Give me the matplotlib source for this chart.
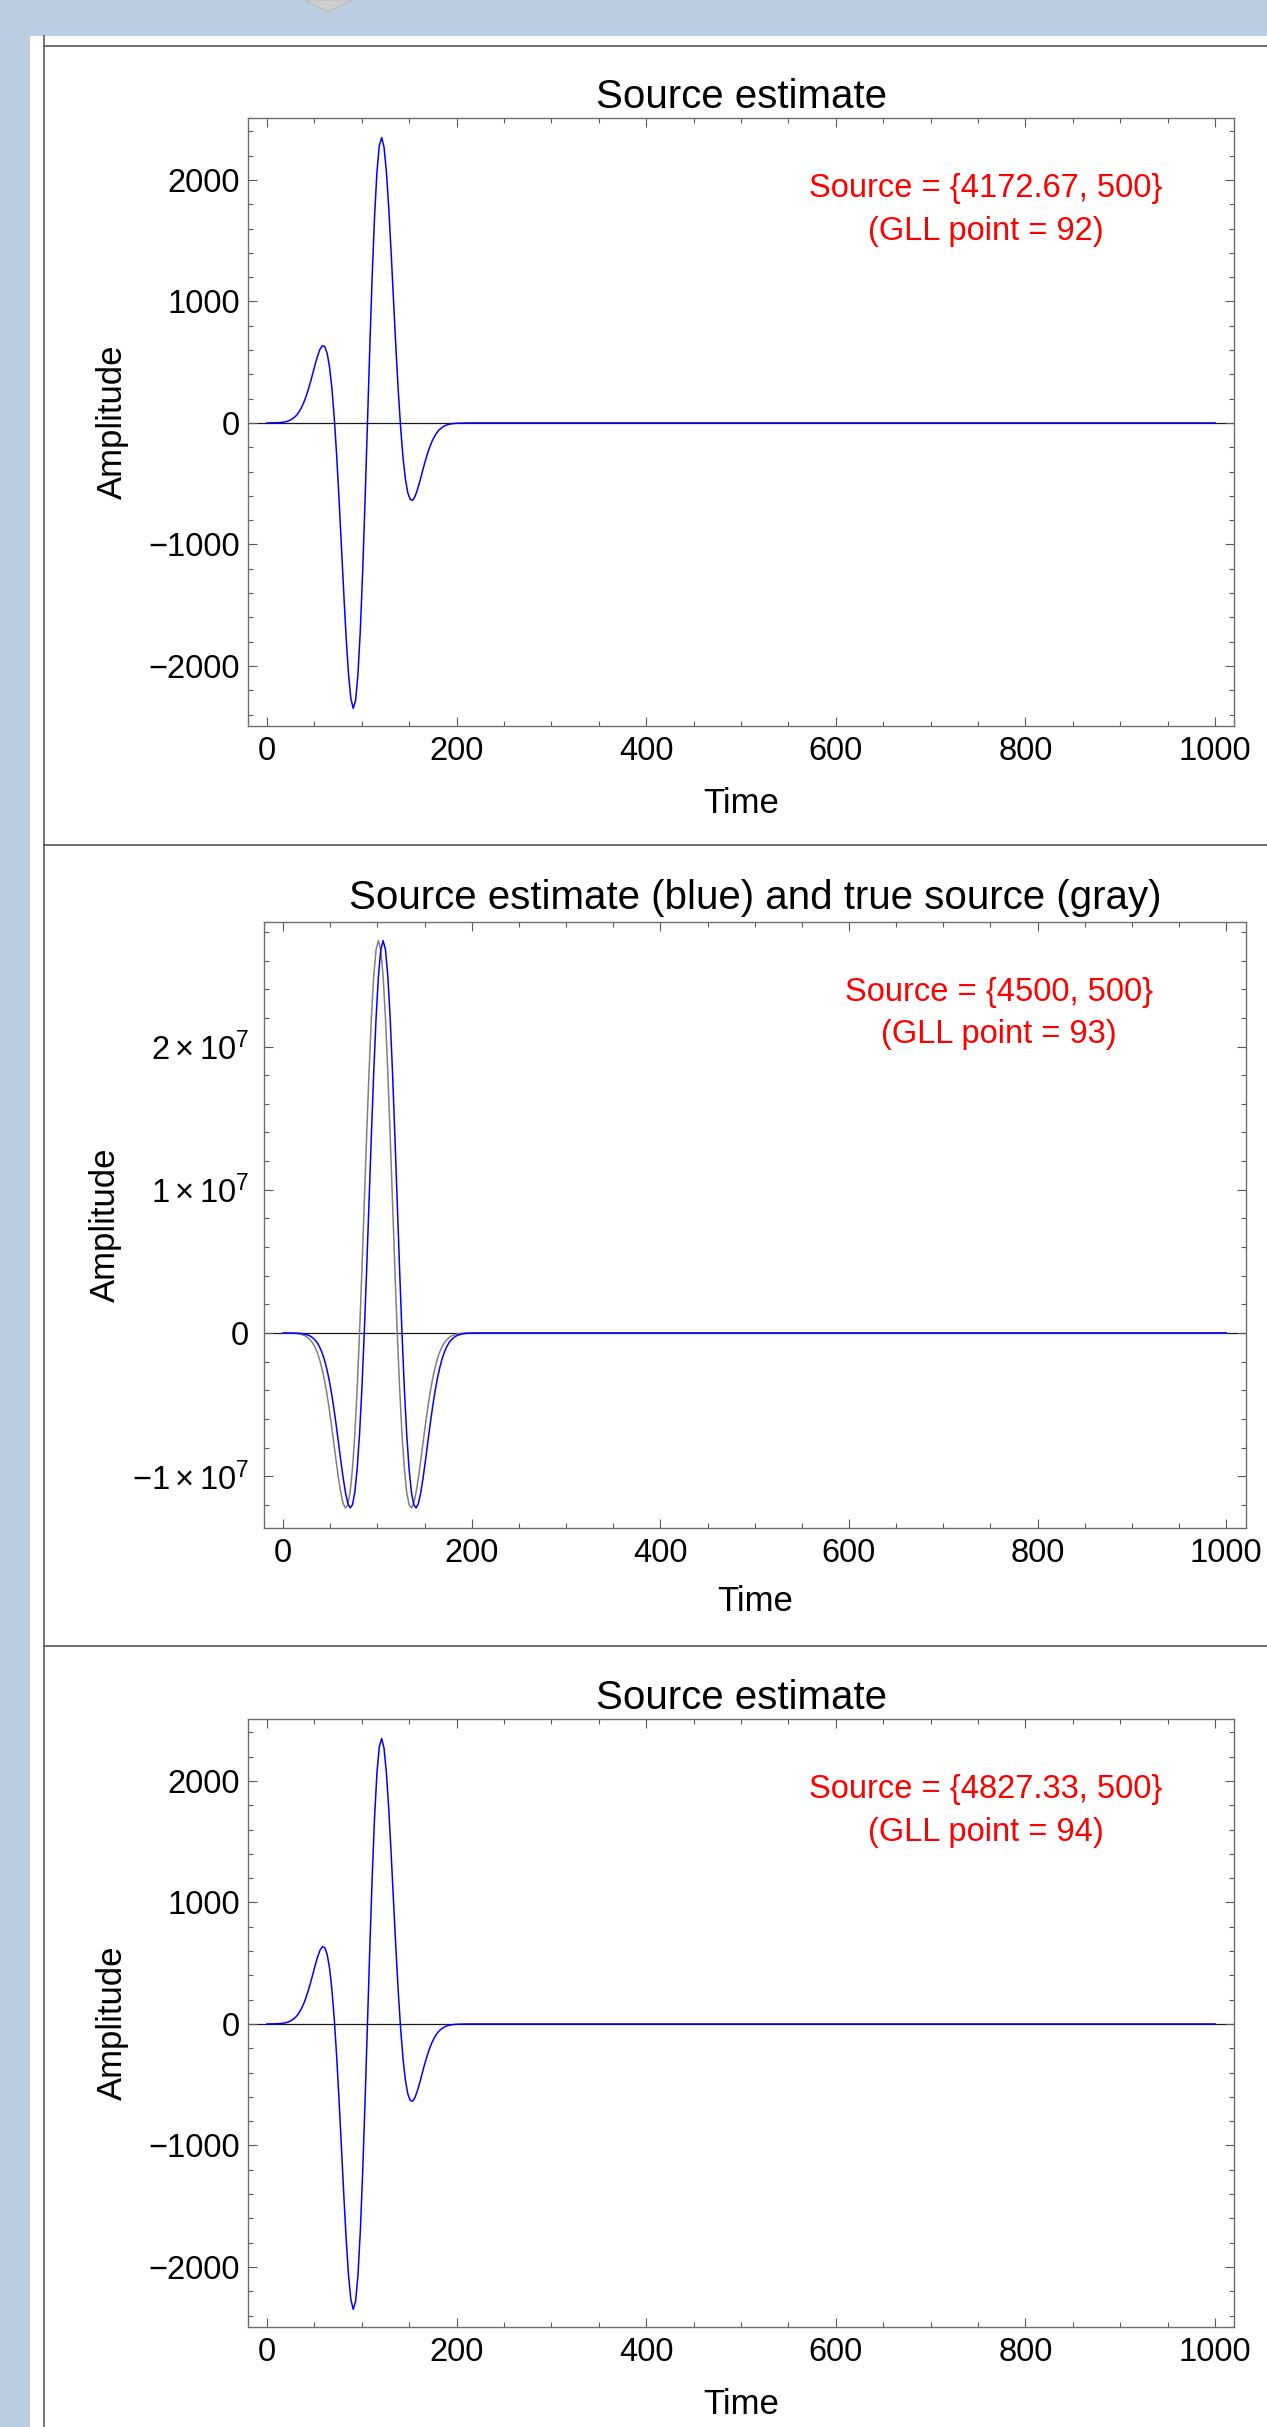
import matplotlib
matplotlib.use('Agg')
import matplotlib.pyplot as plt
from matplotlib.lines import Line2D
from matplotlib.patches import Polygon, Rectangle
from matplotlib.ticker import FuncFormatter, MultipleLocator

# - Values
# -- GLL point 92 (source estimate)
time_92 = [0, 6, 11, 16, 18.5, 21, 23.5, 26, 28.5, 31, 33.5, 36, 38.5, 41, 43.5, 46, 48.5, 51,
           53.5, 56, 58.5, 61, 63.5, 66, 68.5, 71, 73.5, 76, 78.5, 81, 83.5, 86, 88.5, 91, 93.5,
           96, 98.5, 101, 103.5, 106, 108.5, 111, 113.5, 116, 118.5, 121, 123.5, 126, 128.5,
           131, 133.5, 136, 138.5, 141, 143.5, 146, 148.5, 151, 153.5, 156, 158.5, 161, 163.5,
           166, 168.5, 171, 173.5, 176, 178.5, 181, 183.5, 186, 188.5, 191, 193.5, 196, 201,
           206, 211, 300, 1000]
amplitude_92 = [0, 1, 2, 5, 8, 13, 20, 30, 44, 62, 88, 121, 162, 213, 273, 340, 413, 487,
                554, 608, 636, 628, 573, 461, 284, 40, -265, -622, -1009, -1400, -1764, -2065,
                -2269, -2349, -2283, -2065, -1701, -1211, -630, 0, 630, 1211, 1701, 2065, 2283,
                2349, 2269, 2065, 1764, 1400, 1009, 622, 265, -40, -284, -461, -573, -628,
                -636, -608, -554, -487, -413, -340, -273, -213, -162, -121, -88, -62, -44, -30,
                -20, -13, -8, -5, -2, -1, 0, 0, 0]

# -- GLL point 93, amplitudes in units of 1e7 (estimate in blue, true source in gray)
time_93_est = [0, 11, 16, 18.5, 21, 23.5, 26, 28.5, 31, 33.5, 36, 38.5, 41, 43.5, 46, 48.5,
               51, 53.5, 56, 58.5, 61, 63.5, 66, 68.5, 71, 73.5, 76, 78.5, 81, 83.5, 86, 88.5,
               91, 93.5, 96, 98.5, 101, 103.5, 106, 108.5, 111, 113.5, 116, 118.5, 121, 123.5,
               126, 128.5, 131, 133.5, 136, 138.5, 141, 143.5, 146, 148.5, 151, 153.5, 156,
               158.5, 161, 163.5, 166, 168.5, 171, 173.5, 176, 178.5, 181, 183.5, 186, 188.5,
               191, 193.5, 196, 201, 211, 300, 1000]
amplitude_93_est = [0, -0.001, -0.002, -0.003, -0.006, -0.009, -0.014, -0.021, -0.032, -0.047,
                    -0.067, -0.096, -0.133, -0.182, -0.244, -0.319, -0.410, -0.515, -0.632,
                    -0.758, -0.886, -1.007, -1.112, -1.189, -1.222, -1.200, -1.112, -0.948,
                    -0.706, -0.387, 0, 0.438, 0.905, 1.373, 1.814, 2.195, 2.490, 2.676, 2.740,
                    2.676, 2.490, 2.195, 1.814, 1.373, 0.905, 0.438, 0, -0.387, -0.706, -0.948,
                    -1.112, -1.200, -1.222, -1.189, -1.112, -1.007, -0.886, -0.758, -0.632,
                    -0.515, -0.410, -0.319, -0.244, -0.182, -0.133, -0.096, -0.067, -0.047,
                    -0.032, -0.021, -0.014, -0.009, -0.006, -0.003, -0.002, -0.001, 0, 0, 0]
time_93_true = [0, 6, 11, 13.5, 16, 18.5, 21, 23.5, 26, 28.5, 31, 33.5, 36, 38.5, 41, 43.5,
                46, 48.5, 51, 53.5, 56, 58.5, 61, 63.5, 66, 68.5, 71, 73.5, 76, 78.5, 81, 83.5,
                86, 88.5, 91, 93.5, 96, 98.5, 101, 103.5, 106, 108.5, 111, 113.5, 116, 118.5,
                121, 123.5, 126, 128.5, 131, 133.5, 136, 138.5, 141, 143.5, 146, 148.5, 151,
                153.5, 156, 158.5, 161, 163.5, 166, 168.5, 171, 173.5, 176, 178.5, 181, 183.5,
                186, 188.5, 191, 196, 206, 300, 1000]
amplitude_93_true = [0, -0.001, -0.002, -0.003, -0.006, -0.009, -0.014, -0.021, -0.032, -0.047,
                     -0.067, -0.096, -0.133, -0.182, -0.244, -0.319, -0.410, -0.515, -0.632,
                     -0.758, -0.886, -1.007, -1.112, -1.189, -1.222, -1.200, -1.112, -0.948,
                     -0.706, -0.387, 0, 0.438, 0.905, 1.373, 1.814, 2.195, 2.490, 2.676, 2.740,
                     2.676, 2.490, 2.195, 1.814, 1.373, 0.905, 0.438, 0, -0.387, -0.706, -0.948,
                     -1.112, -1.200, -1.222, -1.189, -1.112, -1.007, -0.886, -0.758, -0.632,
                     -0.515, -0.410, -0.319, -0.244, -0.182, -0.133, -0.096, -0.067, -0.047,
                     -0.032, -0.021, -0.014, -0.009, -0.006, -0.003, -0.002, -0.001, 0, 0, 0]

# -- GLL point 94 (source estimate)
time_94 = [0, 6, 11, 16, 18.5, 21, 23.5, 26, 28.5, 31, 33.5, 36, 38.5, 41, 43.5, 46, 48.5, 51,
           53.5, 56, 58.5, 61, 63.5, 66, 68.5, 71, 73.5, 76, 78.5, 81, 83.5, 86, 88.5, 91, 93.5,
           96, 98.5, 101, 103.5, 106, 108.5, 111, 113.5, 116, 118.5, 121, 123.5, 126, 128.5,
           131, 133.5, 136, 138.5, 141, 143.5, 146, 148.5, 151, 153.5, 156, 158.5, 161, 163.5,
           166, 168.5, 171, 173.5, 176, 178.5, 181, 183.5, 186, 188.5, 191, 193.5, 196, 201,
           206, 211, 300, 1000]
amplitude_94 = [0, 1, 2, 5, 8, 13, 20, 30, 44, 62, 88, 121, 162, 213, 273, 340, 413, 487,
                554, 608, 636, 628, 573, 461, 284, 40, -265, -622, -1009, -1400, -1764, -2065,
                -2269, -2349, -2283, -2065, -1701, -1211, -630, 0, 630, 1211, 1701, 2065, 2283,
                2349, 2269, 2065, 1764, 1400, 1009, 622, 265, -40, -284, -461, -573, -628,
                -636, -608, -554, -487, -413, -340, -273, -213, -162, -121, -88, -62, -44, -30,
                -20, -13, -8, -5, -2, -1, 0, 0, 0]

titles = ['Source estimate', 'Source estimate (blue) and true source (gray)', 'Source estimate']
source_labels = ['Source = {4172.67, 500}', 'Source = {4500, 500}', 'Source = {4827.33, 500}']
gll_labels = ['(GLL point = 92)', '(GLL point = 93)', '(GLL point = 94)']
x_ticks = [0, 200, 400, 600, 800, 1000]
unit_93 = 1e7

# - Fonts
plt.rcParams['font.family'] = ['Liberation Sans', 'DejaVu Sans']
plt.rcParams['mathtext.fontset'] = 'custom'
plt.rcParams['mathtext.rm'] = 'Liberation Sans'
plt.rcParams['mathtext.it'] = 'Liberation Sans:italic'
plt.rcParams['mathtext.bf'] = 'Liberation Sans:bold'

W, H = 1267, 2427
BG = '#BBCDE0'


def px_rect(left, top, right, bottom):
    return [left / W, 1 - bottom / H, (right - left) / W, (bottom - top) / H]


fig = plt.figure(figsize=(W / 100, H / 100), dpi=100, facecolor=BG)

# - Notebook frame: white page, cell bracket and cell separators
fig.patches.append(Rectangle((30 / W, 0), 1 - 30 / W, 1 - 36 / H, transform=fig.transFigure,
                             facecolor='white', edgecolor='none', zorder=-3))
fig.patches.append(Polygon([(305 / W, 1), (352 / W, 1), (328 / W, 1 - 12 / H)], closed=True,
                           transform=fig.transFigure, facecolor='#CFCFCF',
                           edgecolor='#B5B5B5', lw=0.6, zorder=-2))
fig.lines.append(Line2D([44 / W, 44 / W], [0, 1 - 36 / H], transform=fig.transFigure,
                        color='#6A6A6A', lw=1.3, zorder=-1))
for sep_y in (46, 845, 1646):
    fig.lines.append(Line2D([44 / W, 1], [1 - sep_y / H, 1 - sep_y / H],
                            transform=fig.transFigure, color='#555555', lw=1.2, zorder=-1))


def sci_label(v, pos):
    n = int(round(v / unit_93))
    if n == 0:
        return '0'
    return r'$%d\times10^{7}$' % n


def style_axes(ax, xlim, ylim, y_major, y_minor, title, title_pad, ylabel_x, xlabel_y,
               ytick_pad, notes):
    ax.set_xlim(*xlim)
    ax.set_ylim(*ylim)
    ax.axhline(0, color='#1A1A1A', lw=0.9, zorder=1)
    # -- Ticks on all four sides, pointing inwards
    ax.set_xticks(x_ticks)
    ax.xaxis.set_minor_locator(MultipleLocator(50))
    ax.yaxis.set_major_locator(MultipleLocator(y_major))
    ax.yaxis.set_minor_locator(MultipleLocator(y_minor))
    ax.tick_params(which='both', direction='in', top=True, right=True,
                   color='#5A5A5A', width=0.8, labelsize=23.5)
    ax.tick_params(which='major', length=6.5)
    ax.tick_params(which='minor', length=3.8)
    ax.tick_params(axis='x', pad=7.5)
    ax.tick_params(axis='y', pad=ytick_pad)
    for border in ('top', 'bottom', 'left', 'right'):
        ax.spines[border].set_edgecolor('#6E6E6E')
        ax.spines[border].set_linewidth(1.0)
    # -- Labels
    ax.set_title(title, fontsize=29, pad=title_pad)
    ax.set_xlabel('Time', fontsize=25)
    ax.xaxis.set_label_coords(0.5, xlabel_y)
    ax.xaxis.label.set_va('center')
    ax.set_ylabel('Amplitude', fontsize=25)
    ax.yaxis.set_label_coords(ylabel_x, 0.5)
    # -- Red annotation
    ax.text(0.7485, 0.8696, notes[0], transform=ax.transAxes, color='#FF0000',
            fontsize=23.5, ha='center', va='baseline')
    ax.text(0.7485, 0.7993, notes[1], transform=ax.transAxes, color='#FF0000',
            fontsize=23.5, ha='center', va='baseline')


# - Panel 1
ax1 = fig.add_axes(px_rect(248, 118, 1234, 726))
ax1.plot(time_92, amplitude_92, color='#0000FF', lw=1.1, zorder=3)
style_axes(ax1, (-20, 1020), (-2494, 2510), 1000, 200, titles[0], 7.5, -0.121, -0.127, 5.8,
           (source_labels[0], gll_labels[0]))

# - Panel 2
ax2 = fig.add_axes(px_rect(264.3, 921.7, 1246, 1527.7))
ax2.plot(time_93_true, [v * unit_93 for v in amplitude_93_true], color='#808080', lw=1.1,
         zorder=2)
ax2.plot(time_93_est, [v * unit_93 for v in amplitude_93_est], color='#0000FF', lw=1.1,
         zorder=3)
style_axes(ax2, (-20, 1021), (-1.36e7, 2.872e7), 1e7, 0.2e7, titles[1], 9, -0.145, -0.121,
           11, (source_labels[1], gll_labels[1]))
ax2.yaxis.set_major_formatter(FuncFormatter(sci_label))

# - Panel 3
ax3 = fig.add_axes(px_rect(248, 1719, 1234, 2327))
ax3.plot(time_94, amplitude_94, color='#0000FF', lw=1.1, zorder=3)
style_axes(ax3, (-20, 1020), (-2494, 2510), 1000, 200, titles[2], 7.5, -0.121, -0.127, 5.8,
           (source_labels[2], gll_labels[2]))

fig.savefig('out.png', dpi=100, facecolor=fig.get_facecolor())
